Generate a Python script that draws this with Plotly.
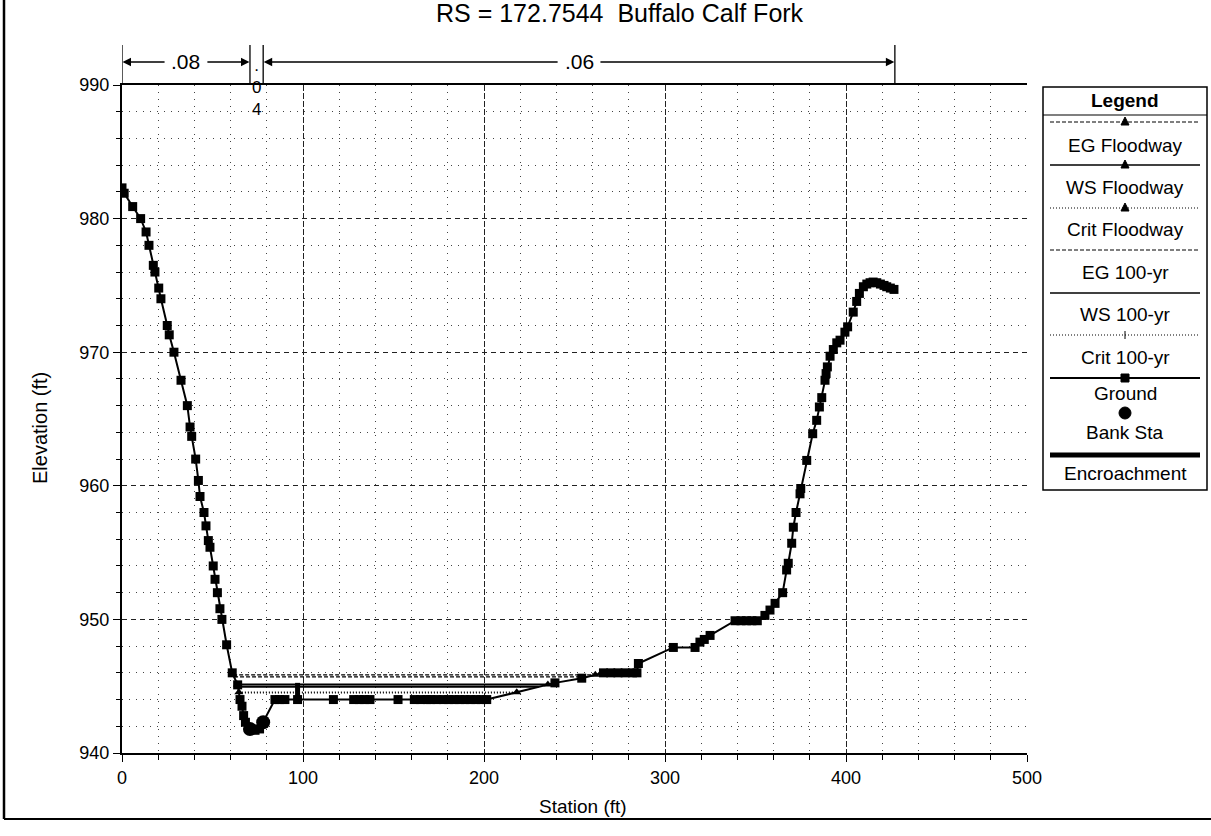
import numpy as np
import plotly.graph_objects as go

# ---------------- data ----------------
chart_title = "RS = 172.7544\u00a0\u00a0Buffalo Calf Fork"
x_title = "Station (ft)"
y_title = "Elevation (ft)"

ground_sta = [0.0, 1.2, 5.9, 10.3, 13.3, 14.9, 17.3, 18.2, 20.3, 21.5, 25.0, 26.1, 28.7,
              32.6, 36.1, 37.6, 38.5, 40.7, 42.2, 43.1, 45.3, 46.4, 47.7, 48.6, 50.4,
              51.4, 52.7, 54.1, 55.2, 57.8, 60.9, 63.9, 65.2, 66.3, 67.2, 68.2, 70.7,
              73.5, 76.0, 78.0, 84.5, 87.0, 90.0, 97.0, 116.8, 128.0, 131.0, 134.0,
              137.0, 152.5, 161.5, 165.0, 168.5, 170.5, 174.0, 177.5, 180.5, 183.5,
              186.5, 189.5, 192.5, 195.5, 198.5, 201.5, 239.2, 254.0, 266.0, 270.0,
              274.0, 278.0, 282.0, 284.5, 285.3, 304.6, 316.6, 319.3, 321.7, 324.9,
              338.7, 342.0, 345.0, 348.0, 351.0, 355.2, 358.0, 360.8, 365.0, 367.2,
              368.1, 370.0, 370.9, 372.4, 374.6, 375.0, 378.3, 381.6, 383.8, 385.3,
              386.6, 388.4, 389.0, 389.7, 391.2, 393.0, 394.9, 396.7, 399.4, 400.9,
              404.0, 405.9, 407.4, 409.6, 411.5, 413.3, 415.0, 417.0, 419.0, 421.0,
              422.5, 424.5, 426.5]
ground_elev = [982.3, 981.9, 980.9, 980.0, 979.0, 978.0, 976.5, 976.0, 974.8, 974.0, 972.0,
               971.3, 970.0, 967.9, 966.0, 964.4, 963.7, 962.0, 960.4, 959.2, 958.0,
               957.0, 955.9, 955.4, 954.0, 953.0, 952.0, 950.8, 950.0, 948.1, 946.0,
               945.1, 944.0, 943.5, 942.8, 942.3, 941.8, 941.7, 941.8, 942.3, 944.0,
               944.0, 944.0, 944.0, 944.0, 944.0, 944.0, 944.0, 944.0, 944.0, 944.0,
               944.0, 944.0, 944.0, 944.0, 944.0, 944.0, 944.0, 944.0, 944.0, 944.0,
               944.0, 944.0, 944.0, 945.25, 945.6, 946.0, 946.0, 946.0, 946.0, 946.0,
               946.0, 946.7, 947.9, 947.9, 948.3, 948.5, 948.8, 949.9, 949.9, 949.9,
               949.9, 949.9, 950.3, 950.7, 951.2, 952.0, 953.7, 954.2, 955.7, 956.9,
               958.0, 959.4, 959.8, 961.9, 963.9, 964.9, 965.9, 966.6, 967.9, 968.4,
               968.9, 969.7, 970.2, 970.7, 970.9, 971.5, 971.9, 973.0, 973.8, 974.4,
               974.9, 975.1, 975.2, 975.25, 975.2, 975.1, 975.0, 974.9, 974.8, 974.7]

bank_sta = [70.7, 78.0]
bank_elev = [941.8, 942.3]

# water surface elevations (ft)
eg_floodway = 945.85
ws_floodway = 945.12
crit_floodway = 944.55
eg_100yr = 945.70
ws_100yr = 944.95
crit_100yr = 944.50

encr_sta = [97.0, 97.0]
encr_elev = [944.0, 945.25]

n_break_sta = [0.0, 70.7, 78.0, 427.0]
n_values = [".08", ".04", ".06"]

legend_names = ["EG Floodway", "WS Floodway", "Crit Floodway", "EG 100-yr", "WS 100-yr",
                "Crit 100-yr", "Ground", "Bank Sta", "Encroachment"]

# ---------------- helpers ----------------
W, H = 1211, 836
L, R, T, B = 122, 1027, 85, 753
FONT = "Arial, Liberation Sans, sans-serif"


def X(px):
    return (px - L) / (R - L)


def Y(py):
    return 1 - (py - T) / (B - T)


gs = np.array(ground_sta)
ge = np.array(ground_elev)


def extent(ws):
    i0 = int(np.argmin(ge))
    i = i0
    while ge[i] < ws:
        i -= 1
    xl = gs[i] + (ws - ge[i]) * (gs[i + 1] - gs[i]) / (ge[i + 1] - ge[i])
    j = i0
    while ge[j] < ws:
        j += 1
    xr = gs[j - 1] + (ws - ge[j - 1]) * (gs[j] - gs[j - 1]) / (ge[j] - ge[j - 1])
    return [xl, xr]


fig = go.Figure()


def ws_trace(name, elev, dash, width, marker=None):
    xs = extent(elev)
    mode = "lines+markers" if marker else "lines"
    fig.add_trace(go.Scatter(
        x=xs, y=[elev, elev], mode=mode, name=name, showlegend=False,
        line=dict(color="black", width=width, dash=dash),
        marker=dict(symbol=marker or "circle", size=8, color="black"),
        hoverinfo="skip"))


ws_trace("Crit 100-yr", crit_100yr, "1px,2px", 1.2)
ws_trace("Crit Floodway", crit_floodway, "1px,2px", 1.2, "triangle-up")
ws_trace("EG 100-yr", eg_100yr, "4px,2px", 1.2)
ws_trace("EG Floodway", eg_floodway, "4px,2px", 1.2, "triangle-up")
ws_trace("WS 100-yr", ws_100yr, "solid", 2)
ws_trace("WS Floodway", ws_floodway, "solid", 2, "triangle-up")

fig.add_trace(go.Scatter(x=encr_sta, y=encr_elev, mode="lines", name="Encroachment",
                         showlegend=False, line=dict(color="black", width=5)))

fig.add_trace(go.Scatter(x=ground_sta, y=ground_elev, mode="lines+markers", name="Ground",
                         showlegend=False, line=dict(color="black", width=2),
                         marker=dict(symbol="square", size=9, color="black")))

fig.add_trace(go.Scatter(x=bank_sta, y=bank_elev, mode="markers", name="Bank Sta",
                         showlegend=False,
                         marker=dict(symbol="circle", size=14, color="black")))

shapes = []
annotations = []

# outer frame
shapes.append(dict(type="line", xref="paper", yref="paper", x0=X(4), x1=X(4), y0=Y(0), y1=Y(819),
                   line=dict(color="black", width=2.5)))
shapes.append(dict(type="line", xref="paper", yref="paper", x0=X(4), x1=X(1211), y0=Y(819), y1=Y(819),
                   line=dict(color="black", width=2)))

# title & axis titles
annotations.append(dict(text=chart_title, xref="paper", yref="paper", x=X(620), y=Y(13),
                        xanchor="center", yanchor="middle", showarrow=False,
                        font=dict(family=FONT, size=25, color="black")))
annotations.append(dict(text=x_title, xref="paper", yref="paper", x=X(583), y=Y(806),
                        xanchor="center", yanchor="middle", showarrow=False,
                        font=dict(family=FONT, size=19, color="black")))
annotations.append(dict(text=y_title, xref="paper", yref="paper", x=X(40), y=Y(428),
                        xanchor="center", yanchor="middle", showarrow=False, textangle=-90,
                        font=dict(family=FONT, size=20, color="black")))

# Manning's n boundaries
for s in n_break_sta:
    shapes.append(dict(type="line", xref="x", yref="paper", x0=s, x1=s, y0=Y(45), y1=1,
                       line=dict(color="black", width=1.3)))
arrow_y = Y(62)
for k, nv in enumerate(n_values):
    a, b = n_break_sta[k], n_break_sta[k + 1]
    mid = (a + b) / 2
    if b - a > 20:
        annotations.append(dict(text=nv, x=mid, y=arrow_y, xref="x", yref="paper",
                                showarrow=False, xanchor="center", yanchor="middle",
                                font=dict(family=FONT, size=21, color="black")))
        half = 11
        for tail, head in [(mid - half, a + 0.3), (mid + half, b - 0.3)]:
            annotations.append(dict(text="", x=head, y=arrow_y, xref="x", yref="paper",
                                    ax=tail, ay=0, axref="x", ayref="pixel",
                                    showarrow=True, arrowhead=2, arrowsize=1.3,
                                    arrowwidth=1.3, arrowcolor="black"))
    else:
        annotations.append(dict(text="<br>".join(nv), x=mid, y=Y(88), xref="x", yref="paper",
                                showarrow=False, xanchor="center", yanchor="middle",
                                font=dict(family=FONT, size=17, color="black")))

# legend box
lx0, lx1 = 1043, 1207
shapes.append(dict(type="rect", xref="paper", yref="paper", x0=X(lx0), x1=X(lx1), y0=Y(87), y1=Y(490),
                   line=dict(color="black", width=1.5), fillcolor="white", layer="above"))
shapes.append(dict(type="line", xref="paper", yref="paper", x0=X(lx0), x1=X(lx1), y0=Y(115), y1=Y(115),
                   line=dict(color="black", width=1.2)))
annotations.append(dict(text="<b>Legend</b>", xref="paper", yref="paper", x=X(1125), y=Y(101),
                        showarrow=False, xanchor="center", yanchor="middle",
                        font=dict(family=FONT, size=19, color="black")))

leg_style = [("4px,2px", 1.2, "tri"), ("solid", 1.5, "tri"), ("1px,2px", 1.2, "tri"),
             ("4px,2px", 1.2, None), ("solid", 1.5, None), ("1px,2px", 1.2, "plus"),
             ("solid", 2, "sq"), (None, 0, "circ"), ("solid", 5, None)]
line_py = [122, 165, 208, 250, 293, 335, 378, 413, 455]
text_py = [145, 187, 229, 272, 314, 357, 394, 432, 473]
cx = 1125
for name, (dash, w, mk), lp, tp in zip(legend_names, leg_style, line_py, text_py):
    if dash is not None:
        shapes.append(dict(type="line", xref="paper", yref="paper", x0=X(1050), x1=X(1200),
                           y0=Y(lp), y1=Y(lp), line=dict(color="black", width=w, dash=dash)))
    if mk == "tri":
        shapes.append(dict(type="path", xref="paper", yref="paper",
                           path=f"M {X(cx-4)},{Y(lp+3)} L {X(cx+4)},{Y(lp+3)} L {X(cx)},{Y(lp-5)} Z",
                           fillcolor="black", line=dict(color="black", width=1)))
    elif mk == "sq":
        shapes.append(dict(type="rect", xref="paper", yref="paper", x0=X(cx - 4), x1=X(cx + 4),
                           y0=Y(lp - 4), y1=Y(lp + 4), fillcolor="black", line=dict(color="black", width=1)))
    elif mk == "circ":
        shapes.append(dict(type="circle", xref="paper", yref="paper", x0=X(cx - 6), x1=X(cx + 6),
                           y0=Y(lp - 6), y1=Y(lp + 6), fillcolor="black", line=dict(color="black", width=1)))
    elif mk == "plus":
        shapes.append(dict(type="line", xref="paper", yref="paper", x0=X(cx), x1=X(cx),
                           y0=Y(lp - 4), y1=Y(lp + 4), line=dict(color="black", width=1)))
    annotations.append(dict(text=name, xref="paper", yref="paper", x=X(cx), y=Y(tp),
                            showarrow=False, xanchor="center", yanchor="middle",
                            font=dict(family=FONT, size=19, color="black")))

fig.update_layout(
    width=W, height=H,
    margin=dict(l=L, r=W - R, t=T, b=H - B, pad=0),
    paper_bgcolor="white", plot_bgcolor="white",
    showlegend=False,
    shapes=shapes, annotations=annotations,
    font=dict(family=FONT, size=17, color="black"),
    xaxis=dict(range=[0, 500], tick0=0, dtick=100, ticks="outside", ticklen=7, tickwidth=1,
               tickcolor="black", showline=True, linecolor="black", linewidth=2, mirror=True,
               showgrid=True, gridcolor="#222", gridwidth=1, griddash="6px,2px", zeroline=False,
               tickfont=dict(family=FONT, size=18, color="black"),
               minor=dict(dtick=20, tick0=0, ticks="outside", ticklen=5, tickcolor="black",
                          showgrid=True, gridcolor="#444", gridwidth=1, griddash="1px,6px")),
    yaxis=dict(range=[940, 990], tick0=940, dtick=10, ticks="outside", ticklen=7, tickwidth=1,
               tickcolor="black", showline=True, linecolor="black", linewidth=2,
               showgrid=True, gridcolor="#222", gridwidth=1, griddash="5px,4px", zeroline=False,
               tickfont=dict(family=FONT, size=18, color="black"),
               minor=dict(dtick=2, tick0=940, ticks="outside", ticklen=4, tickcolor="black",
                          showgrid=True, gridcolor="#444", gridwidth=1, griddash="1px,6px")),
)

fig.write_html("out.html")
